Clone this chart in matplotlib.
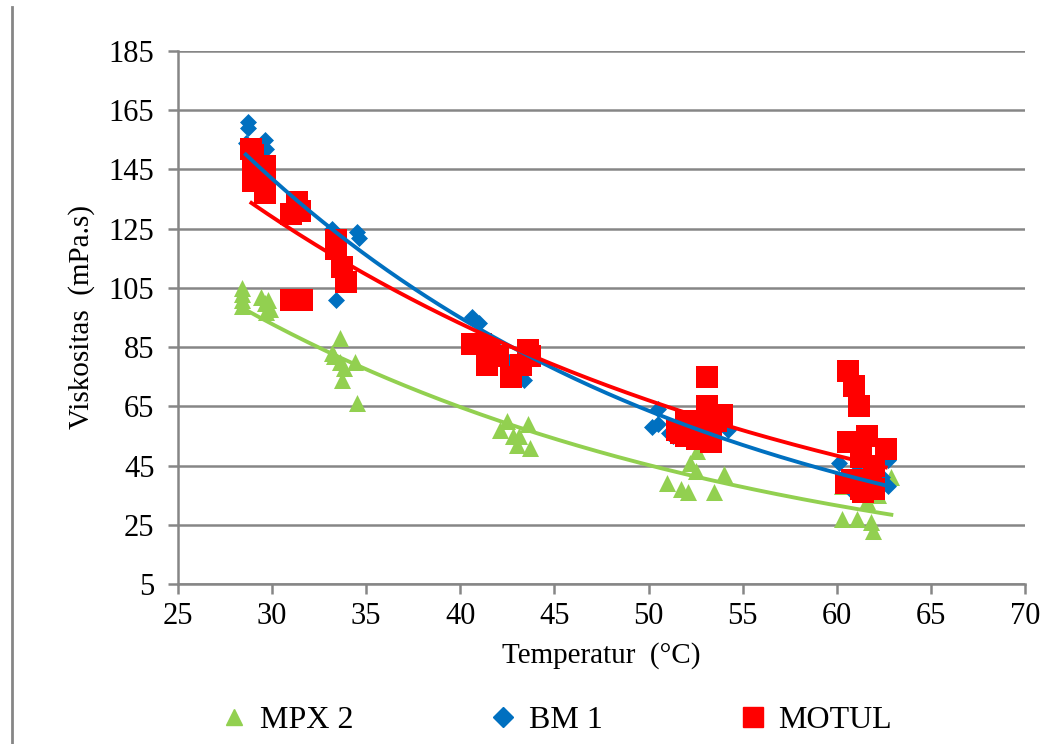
import numpy as np
import matplotlib
matplotlib.use("Agg")
import matplotlib.pyplot as plt
from matplotlib.lines import Line2D

plt.rcParams['font.family'] = ['Liberation Serif', 'DejaVu Serif']

# data (temperature in C, viscosity in mPa.s)
mpx_t = [28.4, 28.4, 28.4, 28.4, 29.4, 29.6, 29.8, 29.9, 29.7,
         33.6, 33.2, 33.8, 33.7, 34.4, 34.5, 33.3, 33.6,
         42.5, 43.6, 42.1, 43.1, 43.0, 43.7, 42.8,
         52.2, 52.5, 51.0, 51.7, 52.1, 54.0, 53.5, 52.6,
         60.3, 61.1, 61.8, 61.9, 61.6, 62.2, 62.9, 60.3]
mpx_v = [105, 103, 101, 99, 102, 100, 101, 98, 97,
         88, 83, 78, 74, 80, 66, 82, 80,
         60, 59, 57, 55, 52, 51, 55,
         46, 43, 39, 37, 36, 42, 36, 50,
         27, 27, 26, 23, 33, 35, 41, 38]

bm_t = [28.7, 28.7, 28.6, 29.6, 29.7, 28.9,
        33.2, 34.5, 34.6, 33.4,
        40.6, 41.0, 43.4, 42.0, 42.6,
        50.5, 50.5, 50.2, 51.1, 54.2, 51.3,
        60.1, 61.1, 62.4, 62.7, 62.2, 60.7, 62.7, 61.0]
bm_v = [161, 159, 154, 155, 152, 148,
        125, 124, 122, 101,
        95, 93, 74, 84, 80,
        64, 59, 58, 56, 57, 55,
        46, 43, 41, 38, 37, 37, 47, 40]

mo_t = [29.0, 29.0, 29.0, 28.9, 29.6, 29.6, 29.6,
        31.3, 31.5, 31.0, 33.4, 33.4, 33.7, 33.9, 31.0, 31.6,
        41.1, 41.4, 42.7, 43.7, 40.6, 41.5, 42.0, 43.2, 43.6,
        53.1, 53.1, 52.0, 51.5, 52.0, 53.0, 53.6, 53.9, 53.3, 52.6, 51.7,
        60.6, 60.9, 61.2, 60.6, 61.6, 62.6, 61.3, 62.0, 60.5, 61.4, 61.3, 60.8,
        61.8, 62.0]
mo_v = [150, 145, 141, 152, 146, 140, 137,
        134, 131, 130, 121, 118, 112, 107, 101, 101,
        86, 79, 75, 82, 86, 84, 82, 79, 84,
        75, 65, 60, 57, 55, 58, 60, 62, 53, 54, 56,
        77, 72, 65, 53, 55, 50.5, 48, 45, 39, 36, 37, 40,
        38, 37]

series = [
    ("MPX 2", mpx_t, mpx_v, "#92d050", "^", 150),
    ("BM 1", bm_t, bm_v, "#0070c0", "D", 75),
    ("MOTUL", mo_t, mo_v, "#ff0000", "s", 230),
]

fig = plt.figure(figsize=(10.57, 7.44), dpi=100)
ax = fig.add_axes([0.1684, 0.2151, 0.8013, 0.7164])

for name, t, v, c, m, s in series:
    ax.scatter(t, v, s=s, marker=m, color=c, linewidths=0, zorder=3)

# exponential trendlines (Excel style)
for name, t, v, c, m, s in series:
    t = np.array(t); v = np.array(v)
    b, a = np.polyfit(t, np.log(v), 1)
    xx = np.linspace(t.min(), t.max(), 200)
    ax.plot(xx, np.exp(a + b * xx), color=c, lw=2.8, zorder=4)

ax.set_xlim(25, 70)
ax.set_ylim(5, 185)
ax.set_xticks(range(25, 71, 5))
ax.set_yticks(range(5, 186, 20))
ax.grid(axis='y', color='#868686', lw=1.8)
ax.set_axisbelow(True)
for sp in ['top', 'right']:
    ax.spines[sp].set_visible(False)
for sp in ['left', 'bottom']:
    ax.spines[sp].set_color('#868686')
    ax.spines[sp].set_linewidth(1.8)
ax.tick_params(colors='#868686', labelcolor='black', labelsize=22, length=7, width=1.8)
ax.tick_params(axis='x', pad=6)
ax.tick_params(axis='y', pad=10)
ax.set_xlabel("Temperatur  (°C)", fontsize=21, labelpad=8)
ax.set_ylabel("Viskositas  (mPa.s)", fontsize=21, labelpad=10)

handles = [Line2D([], [], ls='none', marker=m, color=c, markersize=ms)
           for (name, t, v, c, m, s), ms in zip(series, [12, 10, 15])]
fig.legend(handles, [s[0] for s in series], loc='center', bbox_to_anchor=(0.525, 0.032),
           ncol=3, frameon=False, fontsize=23, columnspacing=4.2, handletextpad=0.3,
           handlelength=1.0)

fig.add_artist(Line2D([0.0114, 0.0114], [0.0, 0.99], color='#868686', lw=2))

fig.savefig("out.png", dpi=100)
